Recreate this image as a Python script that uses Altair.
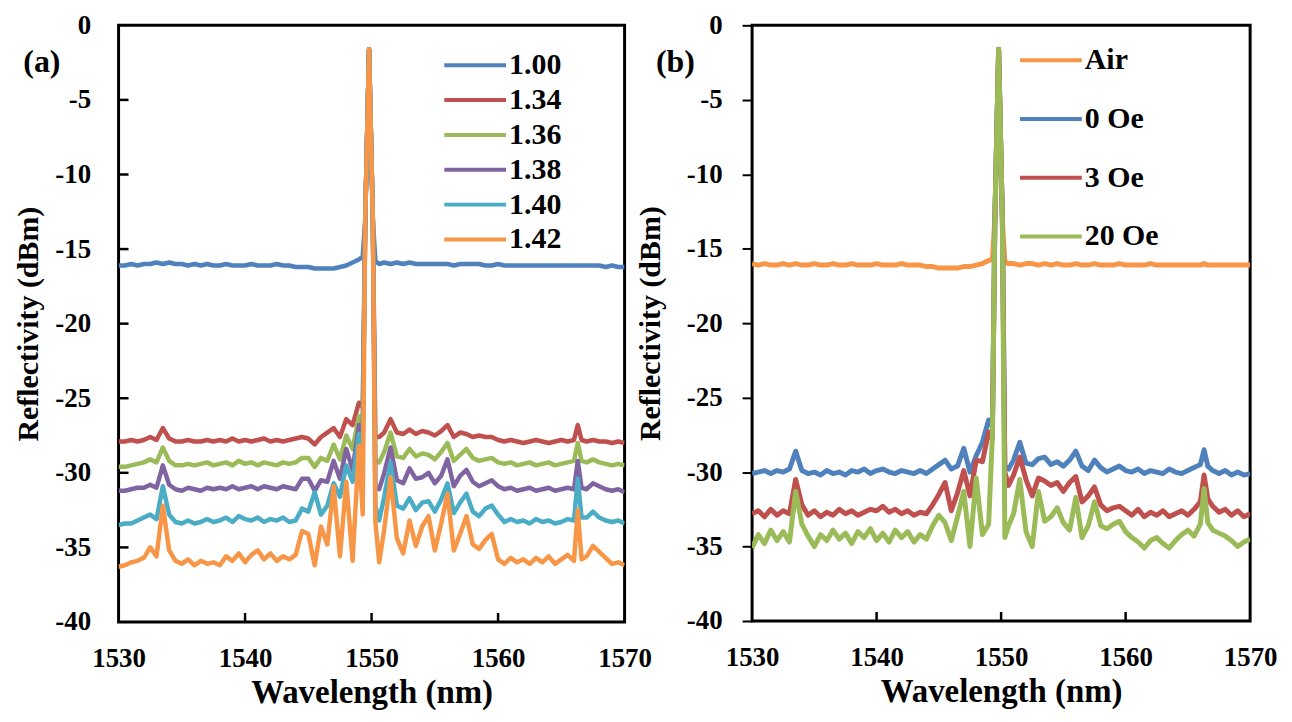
import altair as alt
import pandas as pd

# Wavelength grid (nm)
WL = [1530.0, 1530.5, 1531.0, 1531.5, 1532.0, 1532.5, 1533.0, 1533.5, 1534.0, 1534.5,
      1535.0, 1535.5, 1536.0, 1536.5, 1537.0, 1537.5, 1538.0, 1538.5, 1539.0, 1539.5,
      1540.0, 1540.5, 1541.0, 1541.5, 1542.0, 1542.5, 1543.0, 1543.5, 1544.0, 1544.5,
      1545.0, 1545.5, 1546.0, 1546.5, 1547.0, 1547.5, 1548.0, 1548.5, 1549.0, 1549.3,
      1549.5, 1549.8, 1550.1, 1550.3, 1550.6, 1551.0, 1551.5, 1552.0, 1552.5, 1553.0,
      1553.5, 1554.0, 1554.5, 1555.0, 1555.5, 1556.0, 1556.5, 1557.0, 1557.5, 1558.0,
      1558.5, 1559.0, 1559.5, 1560.0, 1560.5, 1561.0, 1561.5, 1562.0, 1562.5, 1563.0,
      1563.5, 1564.0, 1564.5, 1565.0, 1565.5, 1566.0, 1566.3, 1566.6, 1567.0, 1567.5,
      1568.0, 1568.5, 1569.0, 1569.5, 1570.0]

# ---- Panel (a): refractive index ----
A_100 = [-16.1, -16.1, -16.0, -16.1, -16.0, -16.0, -15.9, -16.0, -15.9, -16.0,
         -16.0, -16.1, -16.0, -16.1, -16.0, -16.1, -16.1, -16.0, -16.1, -16.1,
         -16.1, -16.0, -16.1, -16.1, -16.1, -16.0, -16.1, -16.1, -16.2, -16.2,
         -16.2, -16.3, -16.3, -16.3, -16.3, -16.2, -16.1, -15.9, -15.7, -15.5,
         -13.0, -1.6, -13.0, -15.8, -16.0, -15.9, -16.0, -15.9, -16.0, -15.9,
         -16.0, -16.0, -16.0, -16.0, -16.0, -16.0, -16.1, -16.0, -16.0, -16.0,
         -16.0, -16.1, -16.1, -16.0, -16.1, -16.1, -16.1, -16.1, -16.1, -16.1,
         -16.1, -16.1, -16.1, -16.1, -16.1, -16.1, -16.1, -16.1, -16.1, -16.1,
         -16.1, -16.2, -16.1, -16.2, -16.2]
A_134 = [-27.9, -27.9, -27.8, -27.9, -27.8, -27.6, -27.8, -27.0, -27.7, -27.9,
         -27.9, -27.8, -27.9, -27.9, -27.8, -27.9, -27.8, -27.9, -27.7, -27.9,
         -27.8, -27.9, -27.8, -27.7, -27.9, -27.8, -27.9, -27.8, -27.7, -27.6,
         -27.7, -28.1, -27.6, -27.3, -27.0, -27.6, -26.4, -26.8, -25.3, -25.6,
         -13.0, -1.6, -13.0, -27.6, -27.6, -27.3, -26.4, -27.3, -27.4, -27.1,
         -27.4, -27.2, -27.3, -27.5, -27.2, -26.8, -27.6, -27.3, -27.4, -27.6,
         -27.5, -27.6, -27.6, -27.8, -27.9, -27.8, -27.9, -28.0, -27.9, -27.8,
         -27.9, -28.0, -27.9, -27.8, -27.9, -27.8, -26.8, -27.8, -27.9, -27.8,
         -27.9, -27.9, -28.0, -27.9, -28.0]
A_136 = [-29.6, -29.6, -29.5, -29.4, -29.3, -29.1, -29.3, -28.3, -29.2, -29.5,
         -29.5, -29.4, -29.5, -29.4, -29.3, -29.5, -29.4, -29.3, -29.5, -29.2,
         -29.4, -29.3, -29.5, -29.3, -29.4, -29.5, -29.3, -29.4, -29.3, -29.0,
         -29.0, -29.6, -29.0, -29.2, -28.1, -29.1, -27.5, -28.4, -26.2, -26.8,
         -13.0, -1.6, -13.0, -29.1, -29.3, -28.6, -27.3, -28.9, -29.0, -28.4,
         -28.9, -28.7, -28.8, -29.1, -28.6, -28.0, -29.2, -28.8, -28.4, -29.0,
         -29.2, -29.1, -29.0, -29.3, -29.4, -29.3, -29.5, -29.4, -29.3, -29.5,
         -29.4, -29.3, -29.5, -29.4, -29.3, -29.2, -28.0, -29.2, -29.3, -29.1,
         -29.3, -29.4, -29.5, -29.4, -29.5]
A_138 = [-31.2, -31.2, -31.1, -31.0, -31.0, -30.8, -31.0, -29.5, -30.8, -31.1,
         -31.2, -31.0, -31.1, -31.2, -31.0, -31.1, -31.0, -31.1, -30.9, -31.1,
         -31.0, -30.9, -31.1, -30.9, -31.0, -31.1, -30.9, -31.0, -31.1, -30.4,
         -30.4, -31.2, -30.5, -30.6, -29.2, -30.4, -28.4, -29.8, -26.8, -27.5,
         -13.0, -1.6, -13.0, -31.0, -31.1, -30.0, -28.3, -30.5, -30.7, -29.7,
         -30.4, -30.3, -30.0, -30.7, -30.2, -29.1, -30.9, -30.2, -29.8, -30.6,
         -30.9, -30.7, -30.5, -30.9, -31.1, -31.0, -31.2, -31.1, -31.0, -31.2,
         -31.1, -31.0, -31.2, -31.1, -31.0, -31.1, -29.2, -31.0, -31.1, -30.7,
         -30.9, -31.1, -31.2, -31.1, -31.3]
A_140 = [-33.5, -33.4, -33.4, -33.2, -33.0, -32.8, -33.1, -30.9, -32.8, -33.3,
         -33.4, -33.2, -33.4, -33.3, -33.1, -33.3, -33.2, -33.0, -33.3, -32.9,
         -33.1, -33.2, -33.0, -33.3, -33.1, -33.2, -33.0, -33.3, -33.2, -32.4,
         -32.6, -31.3, -32.8, -32.2, -30.7, -31.6, -29.5, -30.6, -27.4, -28.5,
         -13.0, -1.6, -13.0, -32.2, -33.2, -31.6, -29.3, -32.2, -32.4, -31.7,
         -32.5, -32.0, -31.9, -32.6, -31.8, -30.7, -32.7, -32.0, -31.4, -32.6,
         -32.9, -32.4, -32.2, -32.8, -33.3, -33.1, -33.3, -33.2, -33.4, -33.1,
         -33.3, -33.2, -33.4, -33.3, -33.1, -33.2, -30.4, -33.0, -33.0, -32.6,
         -33.0, -33.2, -33.3, -33.2, -33.4]
A_142 = [-36.3, -36.2, -36.0, -35.9, -35.7, -35.0, -35.6, -32.2, -35.2, -35.9,
         -36.1, -35.8, -36.2, -35.9, -36.1, -36.0, -36.2, -35.6, -35.9, -35.4,
         -36.0, -35.5, -35.2, -35.8, -35.4, -35.9, -35.6, -35.8, -35.5, -33.9,
         -34.1, -36.2, -33.6, -34.8, -30.9, -35.6, -30.6, -35.9, -28.2, -32.8,
         -13.0, -1.6, -13.0, -33.3, -36.0, -33.8, -30.3, -34.4, -35.4, -33.2,
         -34.9, -33.6, -32.9, -35.2, -33.4, -31.4, -35.2, -34.1, -32.9, -34.8,
         -35.1, -34.5, -34.1, -35.8, -36.1, -35.7, -36.0, -35.8, -36.1, -35.7,
         -36.0, -35.6, -36.1, -35.8, -35.5, -35.9, -32.5, -35.8, -35.6, -34.9,
         -35.3, -35.7, -36.1, -36.0, -36.2]

# ---- Panel (b): magnetic field ----
B_AIR = [-16.0, -16.1, -16.0, -16.1, -16.1, -16.0, -16.1, -16.0, -16.1, -16.1,
         -16.0, -16.1, -16.1, -16.0, -16.1, -16.1, -16.0, -16.1, -16.1, -16.1,
         -16.0, -16.1, -16.1, -16.1, -16.0, -16.1, -16.1, -16.1, -16.2, -16.2,
         -16.3, -16.3, -16.3, -16.3, -16.2, -16.2, -16.1, -16.0, -15.8, -15.7,
         -13.0, -1.6, -13.0, -15.9, -16.0, -16.0, -16.1, -16.0, -16.0, -16.1,
         -16.0, -16.1, -16.0, -16.1, -16.1, -16.0, -16.1, -16.1, -16.0, -16.1,
         -16.1, -16.1, -16.0, -16.1, -16.1, -16.1, -16.1, -16.0, -16.1, -16.1,
         -16.1, -16.1, -16.1, -16.1, -16.1, -16.1, -16.0, -16.1, -16.1, -16.1,
         -16.1, -16.1, -16.1, -16.1, -16.1]
B_0 = [-30.1, -30.0, -29.9, -30.1, -29.9, -30.0, -29.8, -28.6, -29.9, -30.1,
       -30.0, -30.2, -29.9, -30.1, -30.0, -30.2, -29.9, -30.0, -29.8, -30.1,
       -29.9, -29.8, -30.0, -30.1, -29.9, -30.0, -30.1, -29.9, -30.1, -29.8,
       -29.5, -29.2, -29.8, -29.6, -28.4, -30.0, -28.9, -28.0, -26.5, -27.0,
       -13.0, -1.6, -13.0, -29.6, -29.8, -29.2, -28.0, -29.4, -29.5, -29.1,
       -29.0, -29.5, -29.3, -29.6, -29.2, -28.6, -29.6, -29.9, -29.2, -29.7,
       -30.0, -29.8, -29.6, -29.9, -30.0, -29.8, -30.1, -29.9, -30.0, -30.1,
       -29.8, -30.0, -30.1, -29.9, -29.7, -29.5, -28.5, -29.6, -29.9, -30.1,
       -29.9, -30.2, -30.0, -30.2, -30.1]
B_3 = [-32.8, -32.6, -33.0, -32.5, -32.9, -32.6, -32.8, -30.5, -32.2, -32.9,
       -32.6, -33.0, -32.7, -32.9, -32.5, -32.8, -32.6, -32.9, -32.7, -32.5,
       -32.6, -32.3, -32.7, -32.5, -32.8, -32.6, -32.9, -32.7, -32.8, -32.2,
       -31.5, -30.7, -32.6, -31.4, -29.9, -31.6, -29.2, -29.3, -27.3, -27.8,
       -13.0, -1.6, -13.0, -30.0, -30.9, -30.2, -29.0, -30.5, -31.6, -30.4,
       -30.6, -30.9, -30.7, -31.3, -30.7, -30.3, -32.0, -31.6, -31.0, -32.2,
       -32.6, -32.4, -32.3, -32.6, -32.9, -32.5, -33.0, -32.7, -32.9, -32.6,
       -33.0, -32.8, -32.6, -32.9, -32.5, -32.0, -30.2, -31.8, -32.3, -32.7,
       -32.5, -32.9, -32.6, -33.0, -32.8]
B_20 = [-35.1, -34.2, -34.8, -33.9, -34.6, -34.0, -34.7, -31.3, -33.5, -34.3,
        -35.0, -34.2, -34.6, -33.9, -34.5, -34.1, -34.8, -34.0, -34.4, -33.8,
        -34.6, -34.1, -34.7, -33.9, -34.4, -34.0, -34.7, -34.2, -34.5, -33.6,
        -32.9, -33.4, -34.6, -33.0, -31.3, -35.0, -30.4, -34.2, -33.5, -27.5,
        -13.0, -1.6, -13.0, -34.4, -33.6, -32.8, -30.5, -34.0, -35.0, -31.3,
        -33.3, -33.0, -32.4, -33.4, -33.9, -31.7, -34.4, -33.6, -32.0, -33.6,
        -33.8, -33.5, -33.3, -34.0, -34.4, -34.7, -35.1, -34.6, -34.4, -34.8,
        -35.1, -34.6, -34.2, -33.9, -34.3, -33.5, -31.1, -33.4, -33.9, -34.1,
        -34.3, -34.6, -35.0, -34.7, -34.5]

A_LABELS = ["1.00", "1.34", "1.36", "1.38", "1.40", "1.42"]
A_SERIES = [A_100, A_134, A_136, A_138, A_140, A_142]
A_COLORS = ["#4F81BD", "#C0504D", "#9BBB59", "#8064A2", "#4BACC6", "#F79646"]

B_LABELS = ["Air", "0 Oe", "3 Oe", "20 Oe"]
B_SERIES = [B_AIR, B_0, B_3, B_20]
B_COLORS = ["#F79646", "#4F81BD", "#C0504D", "#9BBB59"]

X_DOMAIN = [1530, 1570]
Y_DOMAIN = [-40, 0]
X_TICKS = [1530, 1540, 1550, 1560, 1570]
Y_TICKS = [-40, -35, -30, -25, -20, -15, -10, -5, 0]

FONT = "Liberation Serif"


def panel(labels, series, colors, w, h, tag, ylab_pad, ytick, ytitle_pad,
          leg_x, leg_y, row_pad, sw):
    rows = []
    for lab, vals in zip(labels, series):
        for x, v in zip(WL, vals):
            rows.append({"wl": x, "r": v, "s": lab})
    df = pd.DataFrame(rows)

    xs = alt.Scale(domain=X_DOMAIN, nice=False, zero=False)
    ys = alt.Scale(domain=Y_DOMAIN, nice=False, zero=False)
    xax = alt.Axis(values=X_TICKS, labelExpr="'' + datum.value",
                   ticks=False, labelPadding=24, domain=False, grid=False,
                   labelFlush=False, labelOverlap=False,
                   title="Wavelength (nm)", titlePadding=5, titleFontSize=33)
    yax = alt.Axis(values=Y_TICKS,
                   labelExpr="'' + datum.value", tickSize=max(ytick, 1), tickWidth=2,
                   tickColor="black", ticks=ytick > 0,
                   labelPadding=ylab_pad, domain=False, grid=False,
                   labelFlush=False, labelOverlap=False,
                   title="Reflectivity (dBm)", titlePadding=ytitle_pad)
    X = alt.X("wl:Q", scale=xs, axis=xax)
    Y = alt.Y("r:Q", scale=ys, axis=yax)
    color = alt.Color("s:N", scale=alt.Scale(domain=labels, range=colors),
                      legend=alt.Legend(title=None, orient="none", legendX=leg_x, legendY=leg_y,
                                        symbolType="stroke", symbolSize=3844,
                                        symbolStrokeWidth=4, clipHeight=30,
                                        rowPadding=row_pad, labelOffset=1, padding=0,
                                        labelFont=FONT, labelFontSize=30,
                                        labelFontWeight="bold", labelColor="black"))
    layers = []
    for lab in labels:
        layers.append(
            alt.Chart(df).transform_filter(alt.datum.s == lab)
            .mark_line(strokeWidth=sw, strokeJoin="round", clip=True)
            .encode(x=X, y=Y, color=color)
        )

    # inward tick marks (~9 px long, expressed in data units through the scales)
    dy = 9 * (Y_DOMAIN[1] - Y_DOMAIN[0]) / h
    dx = 10 * (X_DOMAIN[1] - X_DOMAIN[0]) / w
    trows = []
    for t in X_TICKS[1:-1]:
        trows.append({"wl": t, "r": Y_DOMAIN[0], "k": "x%s" % t, "o": 0})
        trows.append({"wl": t, "r": Y_DOMAIN[0] + dy, "k": "x%s" % t, "o": 1})
    if ytick == 0:
        for t in Y_TICKS[1:-1]:
            trows.append({"wl": X_DOMAIN[0], "r": t, "k": "y%s" % t, "o": 0})
            trows.append({"wl": X_DOMAIN[0] + dx, "r": t, "k": "y%s" % t, "o": 1})
    layers.append(alt.Chart(pd.DataFrame(trows))
                  .mark_line(color="black", strokeWidth=2.5)
                  .encode(x=X, y=Y, detail="k:N", order="o:Q"))

    layers.append(alt.Chart(pd.DataFrame({"t": [tag]})).mark_text(
        font=FONT, fontSize=32, fontWeight="bold", color="black")
        .encode(text="t:N", x=alt.value(-77), y=alt.value(37)))
    return alt.layer(*layers).properties(width=w, height=h)


pa = panel(A_LABELS, A_SERIES, A_COLORS, 508, 599, "(a)", 28, 0, 11, 325, 25, 5, 4.5)
pb = panel(B_LABELS, B_SERIES, B_COLORS, 500, 598, "(b)", 20, 10, 21, 267, 20, 29, 5)

chart = alt.hconcat(pa, pb, spacing=128, bounds="flush").resolve_scale(
    color="independent").properties(
    padding={"left": 4, "top": 0, "right": 5, "bottom": 5},
    background="white",
).configure_view(stroke="black", strokeWidth=3).configure_axis(
    labelFont=FONT, labelFontSize=27, labelFontWeight="bold", labelColor="black",
    titleFont=FONT, titleFontSize=30, titleFontWeight="bold", titleColor="black",
)

chart.save("out.html", embed_options={"renderer": "svg", "actions": False})
